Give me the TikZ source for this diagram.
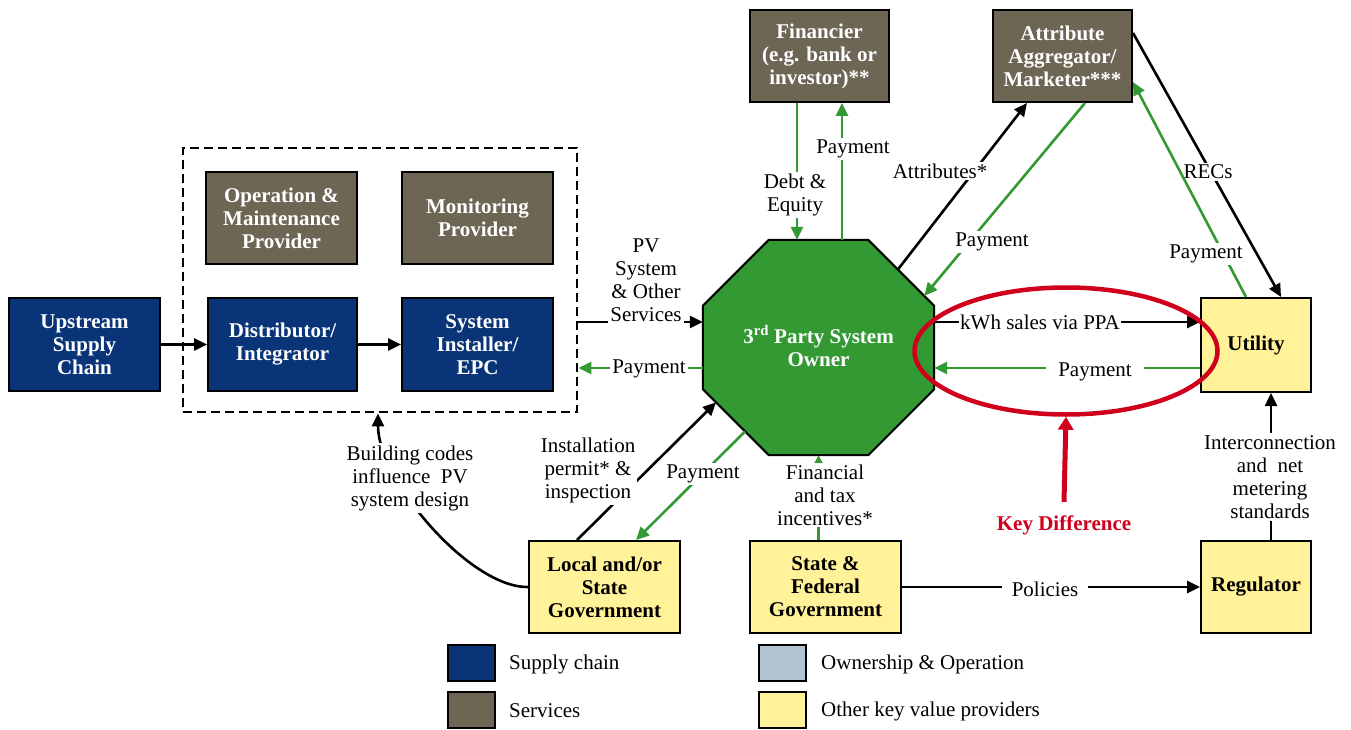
\documentclass[tikz,border=0pt]{standalone}
\usepackage{fontspec}
\setmainfont{Liberation Serif}
\usetikzlibrary{arrows.meta,calc,shapes.geometric}
\definecolor{navy}{RGB}{10,52,120}
\definecolor{svcbrown}{RGB}{110,102,85}
\definecolor{kgreen}{RGB}{51,153,51}
\definecolor{kyellow}{RGB}{255,242,153}
\definecolor{kred}{RGB}{208,0,28}
\definecolor{kgrey}{RGB}{178,196,210}
\newcommand{\lblfont}{\fontsize{21}{23}\selectfont}
\begin{document}
\begin{tikzpicture}[x=1pt,y=-1pt,
  every node/.style={font=\lblfont, align=center},
  boxbase/.style={draw=black, line width=2pt, inner sep=0pt, font=\lblfont\bfseries},
  supply/.style={boxbase, fill=navy, text=white},
  service/.style={boxbase, fill=svcbrown, text=white},
  valprov/.style={boxbase, fill=kyellow, text=black},
  sz/.style 2 args={minimum width=#1, minimum height=#2},
  blk/.style={draw=black, line width=2.6pt, -{Triangle[length=13pt,width=12pt]}},
  grn/.style={draw=kgreen, line width=2.6pt, -{Triangle[length=13pt,width=12pt]}},
  lbl/.style={fill=white, inner sep=2pt},
  legbox/.style={draw=black, line width=2pt, minimum width=47, minimum height=36, inner sep=0pt},
  legtxt/.style={anchor=west, inner sep=0pt}
]
\useasboundingbox (0,0) rectangle (1351,730);

% helper levels
\coordinate (yA) at (0,322);
\coordinate (yB) at (0,368);

% dashed group box
\node[draw=black, line width=2.8pt, dash pattern=on 9pt off 5pt, sz={394}{264}] (dbox) at (380,280) {};

% supply chain
\node[supply, sz={151}{93}] (up) at (84.5,344.5) {Upstream\\Supply\\Chain};
\node[supply, sz={149}{93}] (dist) at (282.5,344.5) {Distributor/\\Integrator};
\node[supply, sz={151}{93}] (inst) at (477.5,344.5) {System\\Installer/\\EPC};

% services
\node[service, sz={151}{92}] (om) at (281.5,218) {Operation \&\\Maintenance\\Provider};
\node[service, sz={151}{92}] (mon) at (477.5,218) {Monitoring\\Provider};
\node[service, sz={139}{92}] (fin) at (819.5,56) {Financier\\(e.g. bank or\\investor)**};
\node[service, sz={139}{92}] (agg) at (1062.5,56) {Attribute\\Aggregator/\\Marketer***};

% value providers
\node[valprov, sz={110}{94}] (util) at (1256,345) {Utility};
\node[valprov, sz={151}{92}] (loc) at (604.5,587) {Local and/or\\State\\Government};
\node[valprov, sz={151}{92}] (sfg) at (825.5,587) {State \&\\Federal\\Government};
\node[valprov, sz={110}{92}] (reg) at (1256,587) {Regulator};

% octagon (3rd party owner)
\node[minimum width=231, minimum height=215, inner sep=0pt] (own) at (818.5,347.5) {};
\coordinate (oN1) at ($(own.north west)+(66,0)$);
\coordinate (oN2) at ($(own.north east)+(-66,0)$);
\coordinate (oE1) at ($(own.north east)+(0,66)$);
\coordinate (oE2) at ($(own.south east)+(0,-66)$);
\coordinate (oS2) at ($(own.south east)+(-66,0)$);
\coordinate (oS1) at ($(own.south west)+(66,0)$);
\coordinate (oW2) at ($(own.south west)+(0,-66)$);
\coordinate (oW1) at ($(own.north west)+(0,66)$);
\draw[fill=kgreen, line width=2pt, line join=miter] (oN1)--(oN2)--(oE1)--(oE2)--(oS2)--(oS1)--(oW2)--(oW1)--cycle;
\node[text=white, font=\lblfont\bfseries] (ownlbl) at (818.5,346) {3\textsuperscript{rd} Party System\\Owner};

% supply chain flow
\draw[blk] (up) -- (dist);
\draw[blk] (dist) -- (inst);

% group <-> owner
\draw[blk] (dbox.east |- yA) -- (own.west |- yA);
\node[lbl] (pvl) at (646,280) {PV\\System\\\& Other\\Services};
\draw[grn] (own.west |- yB) -- (dbox.east |- yB);
\node[lbl] (pay1) at (649,369) {Payment};

% financier
\draw[grn] ([xshift=-22.5pt]fin.south) -- ([xshift=-21.5pt]own.north);
\node[lbl] (debtl) at (795,195) {Debt \&\\Equity};
\draw[grn] ([xshift=23.5pt]own.north) -- ([xshift=22.5pt]fin.south);
\node[lbl] (pay2) at (853,149) {Payment};

% attribute aggregator
\draw[blk] ($(oN2)!0.45!(oE1)$) -- ([xshift=-35.5pt]agg.south);
\node[lbl] (attl) at (940,171) {Attributes*};
\draw[grn] ([xshift=22.5pt]agg.south) -- ($(oN2)!0.85!(oE1)$);
\node[lbl] (pay3) at (992,242) {Payment};

% aggregator <-> utility
\draw[blk] ([yshift=23pt]agg.east) -- ([xshift=25pt]util.north);
\node[lbl] (recl) at (1208,172) {RECs};
\draw[grn] ([xshift=-10pt]util.north) -- ([yshift=-26pt]agg.east);
\node[lbl] (pay4) at (1206,254) {Payment};

% owner <-> utility
\draw[blk] (own.east |- yA) -- (util.west |- yA);
\node[lbl, inner sep=1pt] (kwhl) at (1040,322) {kWh sales via PPA};
\draw[grn] (util.west |- yB) -- (own.east |- yB);
\node[lbl, inner xsep=12pt] (pay5) at (1095,372) {Payment};

% key difference
\node[draw=kred, line width=4.5pt, ellipse, inner sep=0pt, minimum width=303, minimum height=127] (kd) at (1066,351) {};
\node[text=kred, font=\lblfont\bfseries] (kdl) at (1064,525) {Key Difference};
\draw[draw=kred, line width=5pt, -{Triangle[length=13pt,width=15pt]}] ([yshift=10pt]kdl.north) -- (kd.south);

% local government
\draw[blk] ([xshift=-27.5pt]loc.north) -- ($(oW2)!0.2!(oS1)$);
\node[lbl] (instl) at (588,470) {Installation\\permit* \&\\inspection};
\draw[grn] ($(oW2)!0.64!(oS1)$) -- ([xshift=31.5pt]loc.north);
\node[lbl] (pay6) at (703,474) {Payment};

% building codes
\draw[blk] (loc.west) .. controls (470,588) and (378,480) .. ([xshift=-2pt]dbox.south);
\node[lbl] (bcl) at (410,478) {Building codes\\influence\ \ PV\\system design};

% state & federal
\draw[grn, -{Triangle[length=8pt,width=8pt]}] (own.south |- sfg.north) -- (own.south);
\node[lbl] (finl) at (825,495) {Financial\\and tax\\incentives*};
\draw[blk] (sfg.east) -- (reg.west);
\node[lbl, inner xsep=10pt] (poll) at (1045,589) {Policies};

% regulator -> utility
\draw[blk] ([xshift=15pt]reg.north) -- ([xshift=15pt]util.south);
\node[lbl] (intl) at (1270,477) {Interconnection\\and\ \ net\\metering\\standards};

% legend
\node[legbox, fill=navy] (lg1) at (471.5,663) {};
\node[legtxt] (lt1) at (509,664) {Supply chain};
\node[legbox, fill=svcbrown] (lg2) at (471.5,710) {};
\node[legtxt] (lt2) at (509,711) {Services};
\node[legbox, fill=kgrey] (lg3) at (782.5,663) {};
\node[legtxt] (lt3) at (821,664) {Ownership \& Operation};
\node[legbox, fill=kyellow] (lg4) at (782.5,710) {};
\node[legtxt] (lt4) at (821,711) {Other key value providers};
\end{tikzpicture}
\end{document}
